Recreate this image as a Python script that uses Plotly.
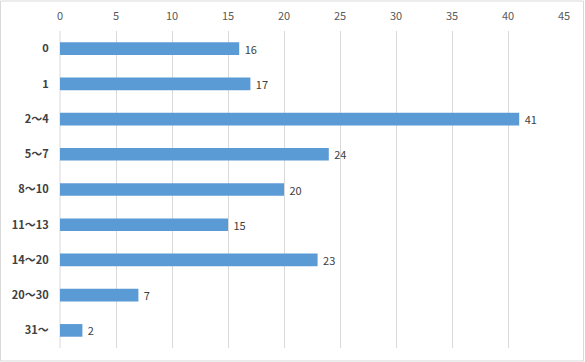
import plotly.graph_objects as go

categories = ["0", "1", "2〜4", "5〜7", "8〜10", "11〜13", "14〜20", "20〜30", "31〜"]
values = [16, 17, 41, 24, 20, 15, 23, 7, 2]
x_ticks = [0, 5, 10, 15, 20, 25, 30, 35, 40, 45]

font_family = "Noto Sans CJK JP, Liberation Sans, sans-serif"

fig = go.Figure(go.Bar(
    x=values,
    y=categories,
    orientation="h",
    marker=dict(color="#5B9BD5", line=dict(width=0)),
    texttemplate=" %{x}",
    textposition="outside",
    constraintext="none",
    textfont=dict(size=11, color="#404040", family=font_family),
    cliponaxis=False,
))

fig.update_layout(
    width=585,
    height=362,
    margin=dict(l=60, r=21, t=31, b=14),
    paper_bgcolor="white",
    plot_bgcolor="white",
    bargap=0.64,
    showlegend=False,
    font=dict(family=font_family, size=11, color="#595959"),
    xaxis=dict(
        side="top",
        range=[0, 45],
        tickvals=x_ticks,
        ticktext=[str(t) for t in x_ticks],
        showgrid=True,
        gridcolor="#d9d9d9",
        gridwidth=1,
        zeroline=False,
        showline=False,
        ticks="outside",
        ticklen=6,
        tickcolor="rgba(0,0,0,0)",
        tickfont=dict(size=11, color="#595959"),
        automargin=False,
        fixedrange=True,
    ),
    yaxis=dict(
        autorange="reversed",
        type="category",
        showgrid=False,
        zeroline=False,
        showline=False,
        ticks="outside",
        ticklen=8,
        tickcolor="rgba(0,0,0,0)",
        tickfont=dict(size=11, color="#404040", family=font_family, weight="bold"),
        automargin=False,
    ),
    shapes=[
        dict(type="line", xref="paper", yref="paper", x0=0, x1=0, y0=0, y1=1,
             line=dict(color="#d9d9d9", width=1), layer="below"),
        dict(type="rect", xref="paper", yref="paper",
             x0=-0.118, x1=1.0387, y0=-0.041, y1=1.0946,
             line=dict(color="#d9d9d9", width=1), fillcolor="rgba(0,0,0,0)"),
    ],
)

fig.write_html(
    "out.html",
    config={"displayModeBar": False},
    post_script="document.body.style.margin='0';document.body.style.padding='0';",
)
